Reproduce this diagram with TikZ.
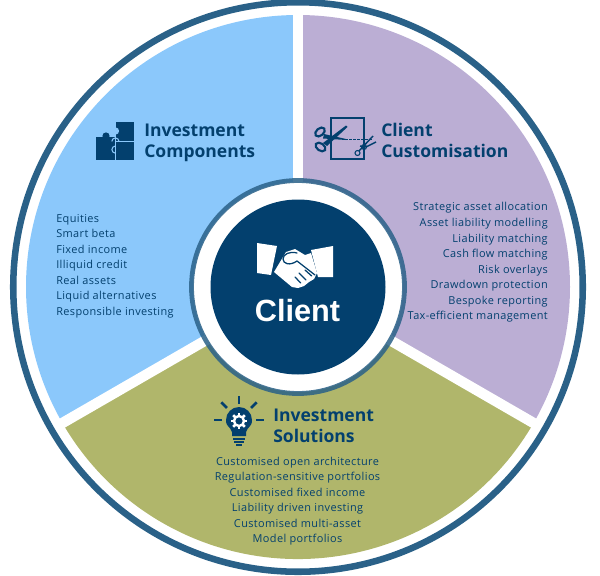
\documentclass[tikz,border=0pt]{standalone}
\usepackage{fontspec}
\usetikzlibrary{calc}
\setmainfont{Open Sans}
\newfontfamily\clientfont{Liberation Sans}
\newfontfamily\listfont[LetterSpace=3.5]{Open Sans}
\definecolor{navy}{HTML}{03406E}
\definecolor{ringblue}{HTML}{2A6188}
\definecolor{sectorblue}{HTML}{8BC8FB}
\definecolor{sectorpurple}{HTML}{BBAED4}
\definecolor{sectorolive}{HTML}{B0B66B}
\tikzset{
	heading/.style={text=navy, font=\fontsize{13.15}{15.8}\selectfont\bfseries, align=left, anchor=west, inner sep=0pt},
	itemlist/.style={text=navy, font=\listfont\fontsize{8.2}{11.65}\selectfont, inner sep=0pt},
	gap/.style={draw=white, line width=7.8pt},
	iconcut/.style={navy, line width=.95pt, line cap=round},
}
\begin{document}
\begin{tikzpicture}[x=0.75pt,y=-0.75pt]
	\useasboundingbox (0,0) rectangle (600,575);
	\coordinate (hub) at (298,287);

	% sectors
	\fill[sectorblue] (hub) -- ++(270:272) arc [start angle=270, end angle=150, radius=272] -- cycle;
	\fill[sectorpurple] (hub) -- ++(270:272) arc [start angle=270, end angle=390, radius=272] -- cycle;
	\fill[sectorolive] (hub) -- ++(30:272) arc [start angle=30, end angle=150, radius=272] -- cycle;
	\coordinate (gaptop) at (298,6);
	\coordinate (gapleft) at ($(hub)+(150:280)$);
	\coordinate (gapright) at ($(hub)+(30:280)$);
	\draw[gap] (hub) -- (gaptop);
	\draw[gap] (hub) -- (gapleft);
	\draw[gap] (hub) -- (gapright);
	\node[draw=ringblue, line width=4.9pt, circle, minimum size=569.5*0.75pt, inner sep=0pt] (outerring) at (hub) {};

	% centre
	\fill[white] (hub) circle (105);
	\node[draw=ringblue, draw opacity=.85, line width=3.6pt, circle, minimum size=213*0.75pt, inner sep=0pt] (hubring) at (hub) {};
	\node[fill=navy, circle, minimum size=175*0.75pt, inner sep=0pt] (clientdisc) at (hub) {};
	\node[text=white, font=\clientfont\fontsize{23}{23}\selectfont\bfseries, inner sep=0pt] (client) at (297.5,311) {Client};

	% handshake
	\fill[white] (257,243) -- (277,246) -- (271,275) -- (257,273) -- cycle;
	\fill[white] (311,250) -- (333,246) -- (333,277) -- (318,277) -- cycle;
	\fill[white] (274,272) -- (286,252) -- (295,249) -- (305,255) -- (311,253) -- (317,273) -- (314,279) -- (309,282) -- (304,286) -- (298,288) -- (292,287) -- cycle;
	\draw[iconcut, line join=round] (297,253) .. controls (290,251) and (283,254) .. (283,259) .. controls (283,264) and (290,266) .. (297,261) -- (315,275);
	\draw[iconcut] (295,277) -- (300.7,283);
	\draw[iconcut] (299,273) -- (306,280);
	\draw[iconcut] (305,270) -- (311.7,276);

	% puzzle icon
	\fill[navy] (115.5,122) rectangle (134,141);
	\fill[navy] (96,137) rectangle (115,160);
	\fill[navy] (116,142) rectangle (134,160);
	\fill[navy] (106,136) circle (3.6);
	\fill[sectorblue] (115.5,131) circle (3.6);
	\draw[sectorblue, line width=.8pt] (115.5,141) -- (115.5,160);
	\draw[sectorblue, line width=.8pt] (115.5,141.5) -- (134,141.5);
	\draw[sectorblue, line width=.8pt] (119,141.5) arc [start angle=180, end angle=0, radius=-3.6];
	\draw[sectorblue, line width=.8pt] (115.5,146) arc [start angle=-90, end angle=-270, radius=3.6];

	% scissors icon
	\draw[navy, line width=1.3pt] (331,118) rectangle (364,159);
	\draw[navy, line width=.8pt, dash pattern=on 2pt off 1pt] (345,139.5) -- (372,139.5);
	\draw[navy, line width=1.6pt, rotate around={40:(320,132)}] (320,132) ellipse (5.5 and 3.6);
	\draw[navy, line width=1.6pt, rotate around={-35:(320.5,147)}] (320.5,147) ellipse (5.5 and 3.6);
	\fill[navy] (323,143) -- (346,125.5) -- (347.5,127) -- (327,146) -- cycle;
	\fill[navy] (324,134) -- (346,139) -- (346,140) -- (323,138.5) -- cycle;
	\draw[navy, line width=.8pt] (357.5,153) circle (2.5);
	\draw[navy, line width=.8pt] (364,147) circle (2.5);
	\draw[navy, line width=1.1pt] (359,151) -- (373,136);
	\draw[navy, line width=1.1pt] (360,146) -- (366,147) -- (376,142);

	% bulb icon
	\fill[navy] (232,432) .. controls (230,426) and (226,427) .. (226,420) arc [start angle=180, end angle=360, radius=13] .. controls (252,427) and (248,426) .. (246,432) -- (246,436) -- (232,436) -- cycle;
	\fill[navy] (233,437.5) rectangle (245,439.5);
	\fill[navy] (234,441) rectangle (244,443);
	\fill[navy] (236,444) rectangle (242,446);
	\foreach \a/\ra/\rb in {270/16.5/24, 180/17/25, 0/17/25, 225/17/25, 315/17/25}
		\draw[navy, line width=2pt] ($(239,420)+(\a:\ra)$) -- ($(239,420)+(\a:\rb)$);
	\foreach \a in {0,45,...,315}
		\draw[white, line width=2pt] ($(239,421)+(\a:5)$) -- ($(239,421)+(\a:8.2)$);
	\draw[white, line width=1.8pt] (239,421) circle (5);

	% headings
	\node[heading] (components) at (144,142.5) {Investment\\Components};
	\node[heading] (customisation) at (381,140.5) {Client\\Customisation};
	\node[heading] (solutions) at (273,425.5) {Investment\\Solutions};

	% lists
	\node[itemlist, align=left, anchor=west] (componentlist) at (56,266) {Equities\\Smart beta\\Fixed income\\Illiquid credit\\Real assets\\Liquid alternatives\\Responsible investing};
	\node[itemlist, align=right, anchor=east] (customlist) at (548,262.5) {Strategic asset allocation\\Asset liability modelling\\Liability matching\\Cash flow matching\\Risk overlays\\Drawdown protection\\Bespoke reporting\\Tax-efficient management};
	\node[itemlist, align=center] (solutionlist) at (297.5,501) {Customised open architecture\\Regulation-sensitive portfolios\\Customised fixed income\\Liability driven investing\\Customised multi-asset\\Model portfolios};
\end{tikzpicture}
\end{document}
